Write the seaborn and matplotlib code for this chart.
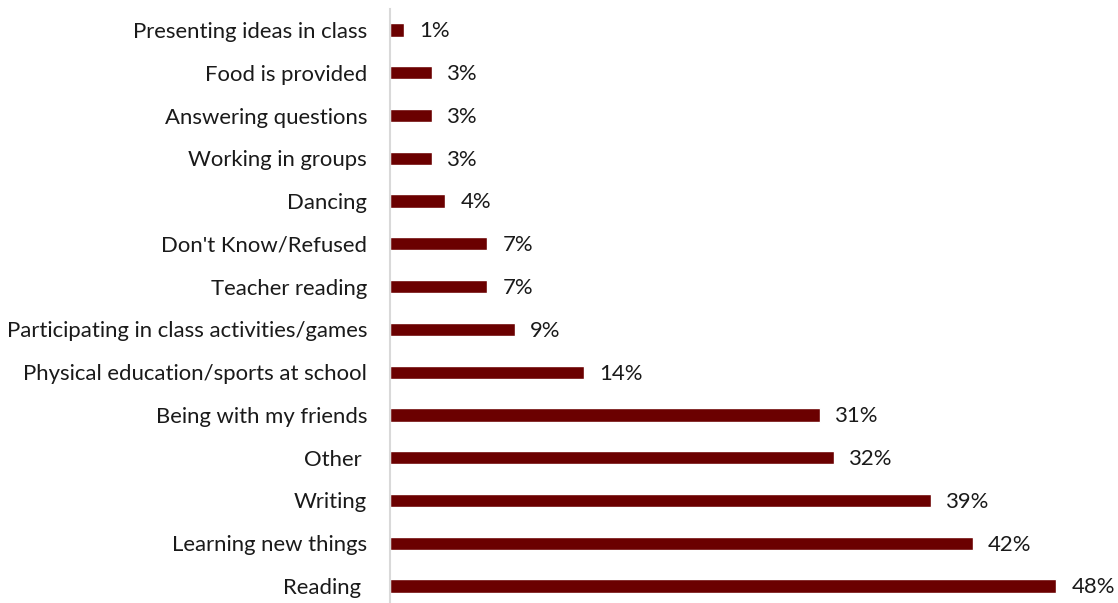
import matplotlib
matplotlib.use("Agg")
import matplotlib.pyplot as plt
import seaborn as sns
import pandas as pd

categories = [
    "Presenting ideas in class",
    "Food is provided",
    "Answering questions",
    "Working in groups",
    "Dancing",
    "Don't Know/Refused",
    "Teacher reading",
    "Participating in class activities/games",
    "Physical education/sports at school",
    "Being with my friends",
    "Other ",
    "Writing",
    "Learning new things",
    "Reading ",
]
values = [1, 3, 3, 3, 4, 7, 7, 9, 14, 31, 32, 39, 42, 48]

df = pd.DataFrame({"activity": categories, "pct": values})

sns.set_theme(style="white")
plt.rcParams["font.family"] = ["Lato", "DejaVu Sans"]

W, H = 1118, 603
fig = plt.figure(figsize=(W / 100, H / 100), dpi=100)
ax = fig.add_axes([390 / W, (H - 607.4) / H, (W - 390) / W, 598.8 / H])

bar_color = "#6B0000"
sns.barplot(data=df, x="pct", y="activity", order=categories, orient="h",
            color=bar_color, width=0.31, saturation=1, ax=ax)

ax.set_xlim(0, 52.47)
ax.set_ylim(len(categories) - 0.5, -0.5)
ax.set_xlabel("")
ax.set_ylabel("")
ax.set_xticks([])

for i, v in enumerate(values):
    ax.annotate(f"{v}%", xy=(v, i), xytext=(11, -1), textcoords="offset points",
                ha="left", va="center", fontsize=15.9, color="#1a1a1a",
                annotation_clip=False)

ax.tick_params(axis="y", length=0, pad=16.5, labelsize=15.9, labelcolor="#1a1a1a")
for side in ["top", "right", "bottom"]:
    ax.spines[side].set_visible(False)
ax.spines["left"].set_color("#D9D9D9")
ax.spines["left"].set_linewidth(1.5)

fig.savefig("out.png", dpi=100)
